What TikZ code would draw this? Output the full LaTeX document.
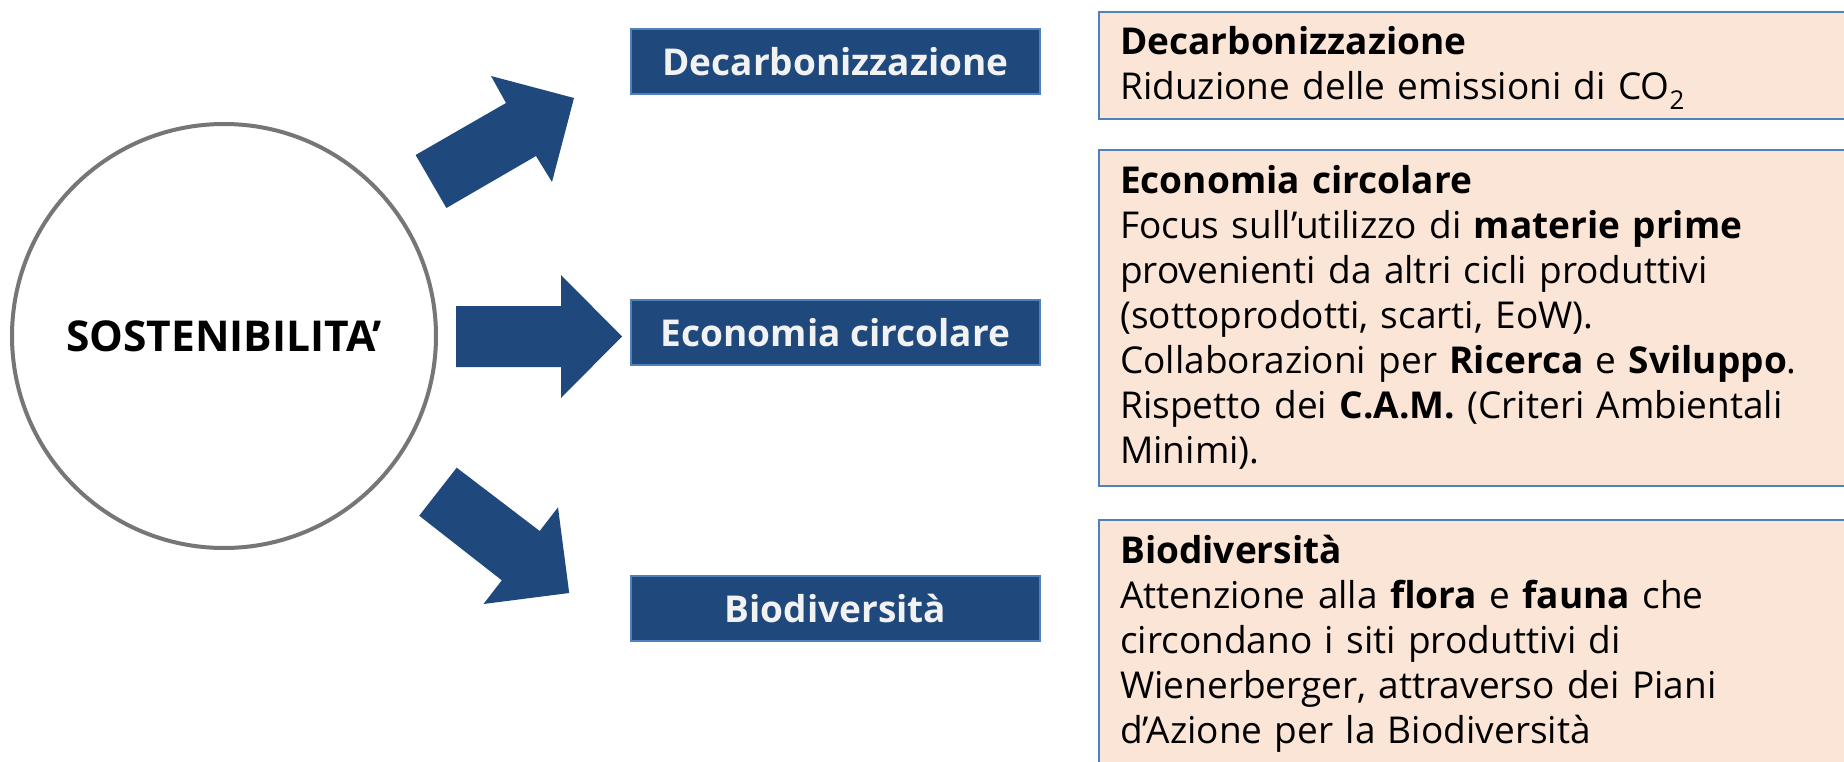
\documentclass[tikz,border=0pt]{standalone}
\usepackage{fontspec}
\setmainfont{Open Sans}
\definecolor{navy}{HTML}{1F497D}
\definecolor{navyedge}{HTML}{4F81BD}
\definecolor{peach}{HTML}{FBE5D6}
\definecolor{ringgray}{HTML}{767676}
\definecolor{offwhite}{HTML}{F2F2F2}
\begin{document}
\begin{tikzpicture}[x=1pt,y=-1pt,
  blockarrow/.style={fill=navy},
  topicbox/.style={fill=navy, draw=navyedge, line width=1.5pt, minimum width=409pt, minimum height=65pt, text=offwhite, font=\fontsize{37}{42}\selectfont\bfseries, inner sep=0pt},
  infobox/.style={fill=peach, draw=navyedge, line width=2pt, anchor=north west, inner sep=0pt, minimum width=760pt},
  infotext/.style={anchor=north west, inner sep=0pt, align=left, text width=710pt, font=\fontsize{37}{45}\selectfont}
]
\useasboundingbox (0,0) rectangle (1844,762);
\fill[white] (0,0) rectangle (1844,762);

% central circle
\node[circle, draw=ringgray, line width=4pt, minimum size=424pt, inner sep=0pt, font=\fontsize{42.5}{48}\selectfont\bfseries] (core) at (224,336) {SOSTENIBILITA’};

% block arrows
\fill[blockarrow] (415.6,155) -- (506,103) -- (491,76) -- (574,98) -- (552,182) -- (536,156) -- (446.4,208) -- cycle;
\fill[blockarrow] (456,306) -- (561,306) -- (561,275) -- (622,336.5) -- (561,398) -- (561,367) -- (456,367) -- cycle;
\fill[blockarrow] (456.7,467.7) -- (539.7,531) -- (558,507.3) -- (569.2,593) -- (483.5,604) -- (501.8,580.3) -- (419.2,515.7) -- cycle;

% topic boxes
\node[topicbox] (decarb) at (835.5,61.5) {Decarbonizzazione};
\node[topicbox] (econ) at (835.5,332.5) {Economia circolare};
\node[topicbox] (bio) at (835.5,608.5) {Biodiversità};

% info boxes
\node[infobox, minimum height=107.5pt] (decarbinfo) at (1098,10.6) {};
\node[infobox, minimum height=335.5pt] (econinfo) at (1098,149.3) {};
\node[infobox, minimum height=260pt] (bioinfo) at (1098,519) {};

\node[infotext] (decarbtext) at (1120,22.5) {\strut\textbf{Decarbonizzazione}\\
Riduzione delle emissioni di CO\textsubscript{2}};
\node[infotext] (econtext) at (1120,161.5) {\strut\textbf{Economia circolare}\\
Focus sull’utilizzo di \textbf{materie prime}\\
provenienti da altri cicli produttivi\\
(sottoprodotti, scarti, EoW).\\
Collaborazioni per \textbf{Ricerca} e \textbf{Sviluppo}.\\
Rispetto dei \textbf{C.A.M.} (Criteri Ambientali\\
Minimi).};
\node[infotext] (biotext) at (1120,531.5) {\strut\textbf{Biodiversità}\\
Attenzione alla \textbf{flora} e \textbf{fauna} che\\
circondano i siti produttivi di\\
Wienerberger, attraverso dei Piani\\
d’Azione per la Biodiversità};
\end{tikzpicture}
\end{document}
